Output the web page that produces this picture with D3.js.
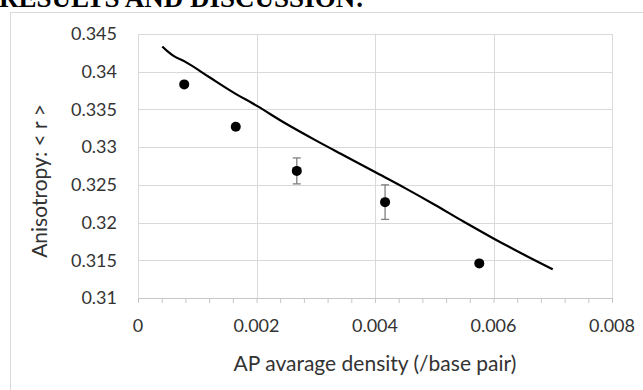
<!DOCTYPE html>
<html>
<head>
<meta charset="utf-8">
<script src="https://cdn.jsdelivr.net/npm/d3@7"></script>
<style>
  body { margin: 0; background: #fff; }
  svg { display: block; }
</style>
</head>
<body>
<svg></svg>
<script>
// measured points (with error bars on some)
var density = [0.00078, 0.00165, 0.00268, 0.00417, 0.00576]
var anisotropy = [0.33832, 0.33271, 0.32685, 0.32271, 0.31459]
var errBar = [0, 0, 0.00172, 0.00229, 0]

// model curve
var curveX = [0.00041, 0.0005, 0.0006, 0.0008, 0.0012, 0.0016, 0.002, 0.0025, 0.003, 0.0035, 0.004, 0.0045, 0.005, 0.0055, 0.006, 0.0065, 0.007]
var curveY = [0.34335, 0.3427, 0.3421, 0.3413, 0.3393, 0.3373, 0.3355, 0.3331, 0.3309, 0.3288, 0.3267, 0.3246, 0.3224, 0.3201, 0.3179, 0.3158, 0.3138]

var xTicks = [0, 0.002, 0.004, 0.006, 0.008]
var yTicks = [0.31, 0.315, 0.32, 0.325, 0.33, 0.335, 0.34, 0.345]

var svg = d3.select("svg")
    .attr("width", 643)
    .attr("height", 390)

// heading from the page, cut off at the top
svg.append("text")
    .attr("x", -1)
    .attr("y", 7)
    .attr("font-family", "Liberation Serif")
    .attr("font-weight", "bold")
    .attr("font-size", 27)
    .attr("fill", "#000")
    .text("RESULTS AND DISCUSSION:")

// chart frame
svg.append("rect")
    .attr("x", 10.5)
    .attr("y", 12.5)
    .attr("width", 700)
    .attr("height", 400)
    .attr("fill", "#fff")
    .attr("stroke", "#d9d9d9")

var pLeft = 138, pRight = 612, pTop = 34, pBottom = 298

var scX = d3.scaleLinear().domain([0, 0.008]).range([pLeft, pRight])
var scY = d3.scaleLinear().domain([0.31, 0.345]).range([pBottom, pTop])

var grid = svg.append("g")
grid.selectAll(".gy").data(yTicks).enter().append("line")
    .attr("x1", pLeft).attr("x2", pRight)
    .attr("y1", d => Math.round(scY(d)) + 0.5)
    .attr("y2", d => Math.round(scY(d)) + 0.5)
    .attr("stroke", "#d9d9d9")
grid.selectAll(".gx").data(xTicks).enter().append("line")
    .attr("y1", pTop).attr("y2", pBottom)
    .attr("x1", d => Math.round(scX(d)) + 0.5)
    .attr("x2", d => Math.round(scX(d)) + 0.5)
    .attr("stroke", "#d9d9d9")

// x axis with minor ticks every 0.0004
var xAxis = d3.axisBottom(scX)
    .tickValues(d3.range(0, 0.00801, 0.0004))
    .tickSize(5)
    .tickFormat("")
var xAxisGroup = svg.append("g")
    .attr("transform", `translate(0, ${pBottom})`)
    .call(xAxis)
xAxisGroup.select(".domain").attr("stroke", "#c6c6c6").attr("d", `M${pLeft},0.5H${pRight}`)
xAxisGroup.selectAll(".tick line").attr("stroke", "#c6c6c6")

svg.append("g").selectAll("text").data(xTicks).enter().append("text")
    .attr("x", d => scX(d))
    .attr("y", 332)
    .attr("text-anchor", "middle")
    .attr("font-family", "Lato")
    .attr("font-size", 18)
    .attr("fill", "#333")
    .text(d => d === 0 ? "0" : d3.format(".3f")(d))

svg.append("g").selectAll("text").data(yTicks).enter().append("text")
    .attr("x", 117)
    .attr("y", d => scY(d))
    .attr("dy", "0.35em")
    .attr("text-anchor", "end")
    .attr("font-family", "Lato")
    .attr("font-size", 18)
    .attr("fill", "#333")
    .text(d => d3.format(".3~f")(d))

// axis titles
svg.append("text")
    .attr("x", (pLeft + pRight) / 2)
    .attr("y", 371)
    .attr("text-anchor", "middle")
    .attr("font-family", "Lato")
    .attr("font-size", 21)
    .attr("fill", "#333")
    .text("AP avarage density (/base pair)")

svg.append("text")
    .attr("transform", "translate(47, 181) rotate(-90)")
    .attr("text-anchor", "middle")
    .attr("font-family", "Lato")
    .attr("font-size", 21)
    .attr("fill", "#333")
    .text("Anisotropy: < r >")

// model line
var line = d3.line()
    .x((d, i) => scX(curveX[i]))
    .y(d => scY(d))
    .curve(d3.curveMonotoneX)
svg.append("path")
    .attr("d", line(curveY))
    .attr("fill", "none")
    .attr("stroke", "#000")
    .attr("stroke-width", 2.2)

// error bars
var pts = density.map((d, i) => ({x: d, y: anisotropy[i], e: errBar[i]}))
var eb = svg.append("g").selectAll("g").data(pts.filter(d => d.e > 0)).enter().append("g")
    .attr("stroke", "#7f7f7f")
    .attr("stroke-width", 1.3)
eb.append("line")
    .attr("x1", d => scX(d.x)).attr("x2", d => scX(d.x))
    .attr("y1", d => scY(d.y + d.e)).attr("y2", d => scY(d.y - d.e))
eb.append("line")
    .attr("x1", d => scX(d.x) - 4).attr("x2", d => scX(d.x) + 4)
    .attr("y1", d => scY(d.y + d.e)).attr("y2", d => scY(d.y + d.e))
eb.append("line")
    .attr("x1", d => scX(d.x) - 4).attr("x2", d => scX(d.x) + 4)
    .attr("y1", d => scY(d.y - d.e)).attr("y2", d => scY(d.y - d.e))

// points
svg.append("g").selectAll("circle").data(pts).enter().append("circle")
    .attr("cx", d => scX(d.x))
    .attr("cy", d => scY(d.y))
    .attr("r", 5)
    .attr("fill", "#000")
</script>
</body>
</html>
